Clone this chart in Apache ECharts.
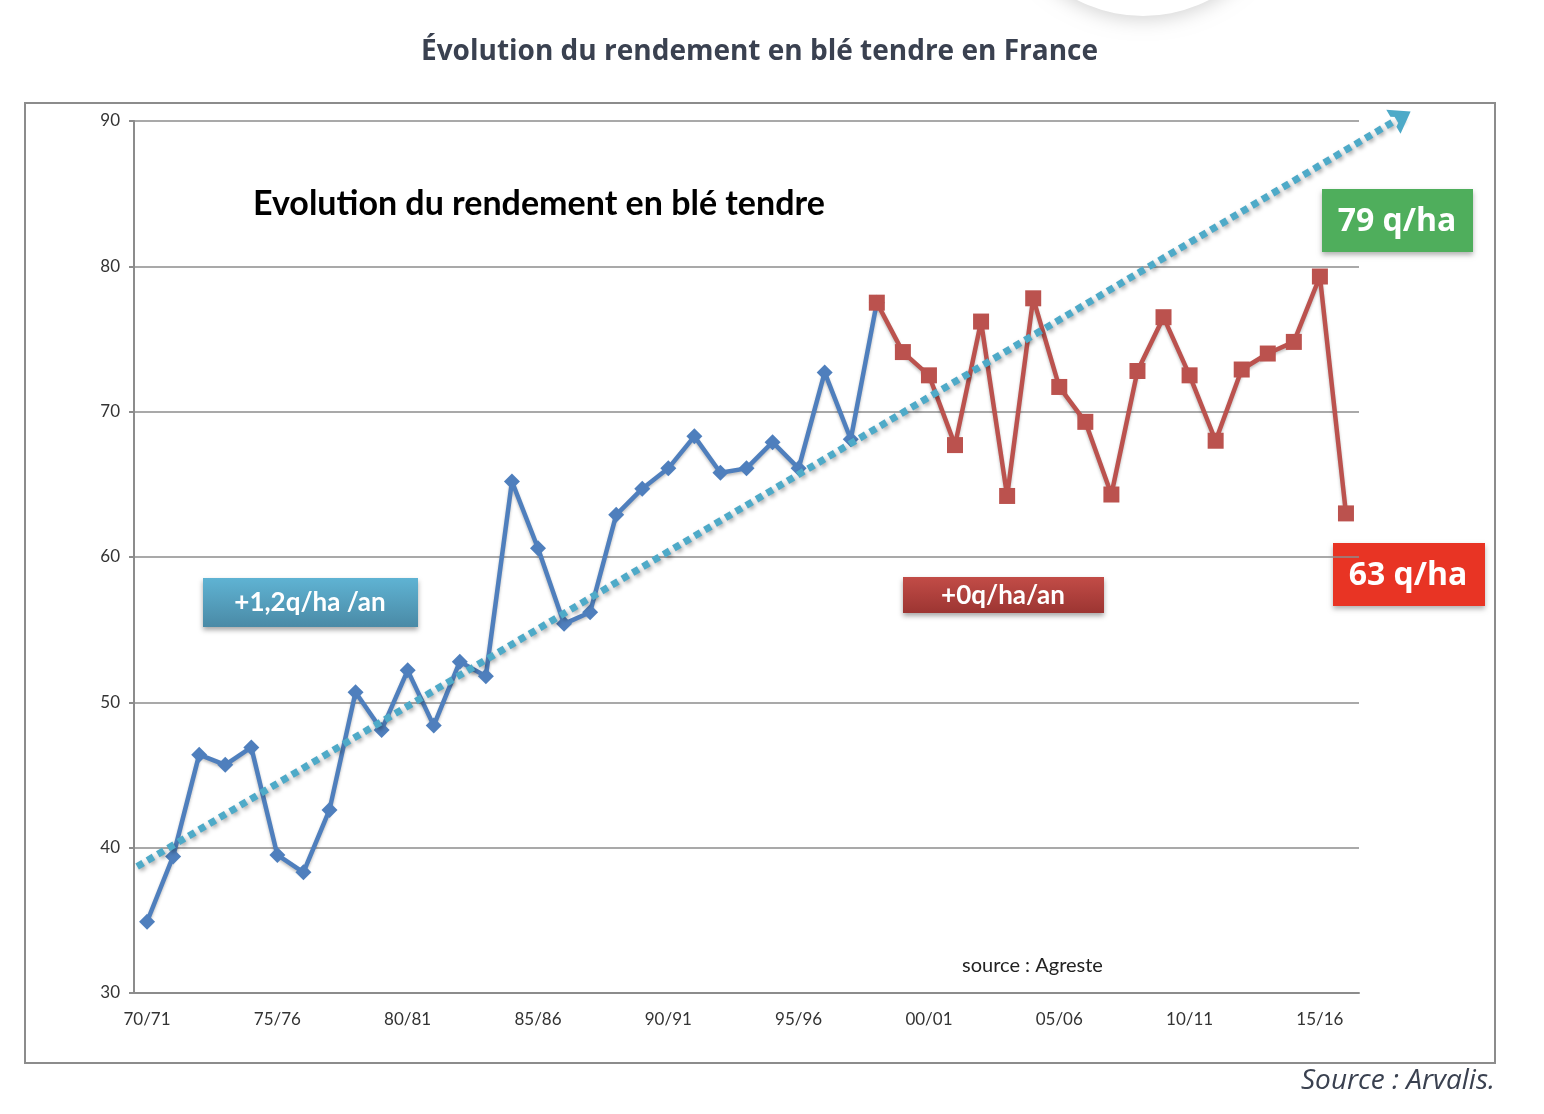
<!DOCTYPE html>
<html>
<head>
    <meta charset="utf-8">
    <title>Évolution du rendement en blé tendre en France</title>
    <style>
        html, body { margin: 0; padding: 0; background: #fff; }
        #main { width: 1544px; height: 1114px; }
    </style>
</head>
<body>
    <script type="text/javascript" src="https://cdn.jsdelivr.net/npm/echarts@6/dist/echarts.min.js"></script>

    <div id="main"></div>

    <script type="text/javascript">
        // campagnes 70/71 -> 16/17
        var campagnes = ['70/71','71/72','72/73','73/74','74/75','75/76','76/77','77/78','78/79','79/80',
            '80/81','81/82','82/83','83/84','84/85','85/86','86/87','87/88','88/89','89/90',
            '90/91','91/92','92/93','93/94','94/95','95/96','96/97','97/98','98/99','99/00',
            '00/01','01/02','02/03','03/04','04/05','05/06','06/07','07/08','08/09','09/10',
            '10/11','11/12','12/13','13/14','14/15','15/16','16/17'];

        // rendement q/ha, période de progression (70/71 -> 98/99)
        var rendHausse = [34.9, 39.4, 46.4, 45.7, 46.9, 39.5, 38.3, 42.6, 50.7, 48.1,
            52.2, 48.4, 52.8, 51.8, 65.2, 60.6, 55.4, 56.2, 62.9, 64.7,
            66.1, 68.3, 65.8, 66.1, 67.9, 66.1, 72.7, 68.1, 77.5];

        // rendement q/ha, période de plafonnement (98/99 -> 16/17)
        var rendPlateau = [77.5, 74.1, 72.5, 67.7, 76.2, 64.2, 77.8, 71.7, 69.3, 64.3,
            72.8, 76.5, 72.5, 68.0, 72.9, 74.0, 74.8, 79.3, 63.0];

        // tendance (flèche pointillée) : début et fin, x en rang de campagne
        var tendanceX = [-0.38, 48.15];
        var tendanceY = [38.7, 90.3];

        var yTicks = [30, 40, 50, 60, 70, 80, 90];

        var serieHausse = [];
        var seriePlateau = [];
        for (var i = 0; i < campagnes.length; i++) {
            serieHausse.push(i < rendHausse.length ? rendHausse[i] : null);
            var j = i - (rendHausse.length - 1);
            seriePlateau.push(j >= 0 ? rendPlateau[j] : null);
        }
        var serieTendance = [[tendanceX[0], tendanceY[0]], [tendanceX[1], tendanceY[1]]];

        // zone du graphique
        var G = { left: 134, right: 185, top: 121, bottom: 121 };
        var largeur = 1544 - G.left - G.right;
        var hauteur = 1114 - G.top - G.bottom;
        var yMin = yTicks[0], yMax = yTicks[yTicks.length - 1];
        // grille invisible plus grande pour la flèche qui dépasse (4 campagnes à droite, 5 q/ha en haut)
        var extX = 4, extY = 5;
        var G2 = {
            left: G.left,
            right: G.right - extX * largeur / campagnes.length,
            top: G.top - extY * hauteur / (yMax - yMin),
            bottom: G.bottom
        };

        var police = 'Lato, "Open Sans", sans-serif';
        var chevron = 'path://M0 0L12 16L5 16L0 9L-5 16L-12 16Z';
        var myChart = echarts.init(document.getElementById('main'));

        myChart.setOption({
            animation: false,
            backgroundColor: '#fff',
            title: {
                text: 'Évolution du rendement en blé tendre en France',
                left: 416,
                top: 33,
                textStyle: {
                    fontFamily: '"Open Sans", sans-serif',
                    fontSize: 28,
                    fontWeight: 'bold',
                    color: '#3a4150'
                }
            },
            grid: [G, G2],
            xAxis: [
                {
                    type: 'category',
                    gridIndex: 0,
                    data: campagnes,
                    boundaryGap: true,
                    axisLine: { onZero: false, lineStyle: { color: '#8c8c8c', width: 2 } },
                    axisTick: { interval: 0, length: 6, lineStyle: { color: '#8c8c8c', width: 2 } },
                    axisLabel: {
                        interval: 4,
                        margin: 18,
                        fontFamily: police,
                        fontSize: 17,
                        color: '#333'
                    },
                    splitLine: { show: false }
                },
                {
                    type: 'value',
                    gridIndex: 1,
                    show: false,
                    min: -0.5,
                    max: campagnes.length - 0.5 + extX
                }
            ],
            yAxis: [
                {
                    type: 'value',
                    gridIndex: 0,
                    min: yMin,
                    max: yMax,
                    interval: 10,
                    axisLine: { show: true, onZero: false, lineStyle: { color: '#8c8c8c', width: 2 } },
                    axisTick: { show: true, length: 5, lineStyle: { color: '#8c8c8c', width: 2 } },
                    axisLabel: {
                        margin: 14,
                        fontFamily: police,
                        fontSize: 17,
                        color: '#333'
                    },
                    splitLine: { lineStyle: { color: '#8c8c8c', width: 1.5 } }
                },
                {
                    type: 'value',
                    gridIndex: 1,
                    show: false,
                    min: yMin,
                    max: yMax + extY
                }
            ],
            series: [
                {
                    name: 'hausse',
                    type: 'line',
                    data: serieHausse,
                    symbol: 'diamond',
                    symbolSize: 16,
                    itemStyle: { color: '#4f7fbd' },
                    lineStyle: {
                        color: '#4f7fbd',
                        width: 4.5,
                        shadowColor: 'rgba(0,0,0,0.25)',
                        shadowBlur: 3,
                        shadowOffsetY: 2
                    },
                    z: 3
                },
                {
                    name: 'plateau',
                    type: 'line',
                    data: seriePlateau,
                    symbol: 'rect',
                    symbolSize: 16,
                    itemStyle: { color: '#bb524e' },
                    lineStyle: {
                        color: '#bb524e',
                        width: 4.5,
                        shadowColor: 'rgba(0,0,0,0.25)',
                        shadowBlur: 3,
                        shadowOffsetY: 2
                    },
                    z: 4
                },
                {
                    name: 'tendance',
                    type: 'line',
                    xAxisIndex: 1,
                    yAxisIndex: 1,
                    data: serieTendance,
                    showSymbol: false,
                    symbol: 'none',
                    lineStyle: { opacity: 0 },
                    z: 5,
                    markLine: {
                        silent: true,
                        symbol: ['none', chevron],
                        symbolSize: [28, 20],
                        label: { show: false },
                        lineStyle: {
                            color: '#4eaac8',
                            opacity: 1,
                            width: 7,
                            type: [7, 5],
                            shadowColor: 'rgba(0,0,0,0.35)',
                            shadowBlur: 4,
                            shadowOffsetX: 2,
                            shadowOffsetY: 2
                        },
                        data: [[
                            { coord: serieTendance[0] },
                            { coord: serieTendance[1] }
                        ]]
                    }
                }
            ],
            graphic: [
                // cercle gris en haut de page
                {
                    type: 'circle',
                    shape: { cx: 1143, cy: -128, r: 144 },
                    style: { fill: '#fff', shadowColor: 'rgba(0,0,0,0.16)', shadowBlur: 18, shadowOffsetY: 4 },
                    z: 1
                },
                // cadre
                {
                    type: 'rect',
                    shape: { x: 25, y: 103, width: 1470, height: 960 },
                    style: { fill: null, stroke: '#8c8c8c', lineWidth: 2 },
                    z: 1
                },
                {
                    type: 'text',
                    left: 253,
                    top: 187,
                    style: {
                        text: 'Evolution du rendement en blé tendre',
                        font: 'bold 34px ' + police,
                        fill: '#000'
                    },
                    z: 10
                },
                // +1,2 q/ha/an
                {
                    type: 'group',
                    left: 203,
                    top: 578,
                    z: 10,
                    children: [
                        {
                            type: 'rect',
                            shape: { x: 0, y: 0, width: 215, height: 49 },
                            style: {
                                fill: new echarts.graphic.LinearGradient(0, 0, 0, 1, [
                                    { offset: 0, color: '#5fb3d3' },
                                    { offset: 1, color: '#4a8aa6' }
                                ]),
                                shadowColor: 'rgba(0,0,0,0.35)',
                                shadowBlur: 5,
                                shadowOffsetY: 3
                            }
                        },
                        {
                            type: 'text',
                            style: {
                                x: 107, y: 25,
                                text: '+1,2q/ha /an',
                                align: 'center',
                                verticalAlign: 'middle',
                                font: 'bold 26px ' + police,
                                fill: '#fff'
                            }
                        }
                    ]
                },
                // +0 q/ha/an
                {
                    type: 'group',
                    left: 903,
                    top: 577,
                    z: 10,
                    children: [
                        {
                            type: 'rect',
                            shape: { x: 0, y: 0, width: 201, height: 36 },
                            style: {
                                fill: new echarts.graphic.LinearGradient(0, 0, 0, 1, [
                                    { offset: 0, color: '#c24c47' },
                                    { offset: 1, color: '#9c3532' }
                                ]),
                                shadowColor: 'rgba(0,0,0,0.35)',
                                shadowBlur: 5,
                                shadowOffsetY: 3
                            }
                        },
                        {
                            type: 'text',
                            style: {
                                x: 100, y: 19,
                                text: '+0q/ha/an',
                                align: 'center',
                                verticalAlign: 'middle',
                                font: 'bold 26px ' + police,
                                fill: '#fff'
                            }
                        }
                    ]
                },
                // 79 q/ha
                {
                    type: 'group',
                    left: 1322,
                    top: 189,
                    z: 10,
                    children: [
                        {
                            type: 'rect',
                            shape: { x: 0, y: 0, width: 151, height: 63 },
                            style: {
                                fill: '#4fae5c',
                                shadowColor: 'rgba(0,0,0,0.3)',
                                shadowBlur: 5,
                                shadowOffsetY: 3
                            }
                        },
                        {
                            type: 'text',
                            style: {
                                x: 75, y: 33,
                                text: '79 q/ha',
                                align: 'center',
                                verticalAlign: 'middle',
                                font: 'bold 32px "Open Sans", sans-serif',
                                fill: '#fff'
                            }
                        }
                    ]
                },
                // 63 q/ha
                {
                    type: 'group',
                    left: 1333,
                    top: 543,
                    z: 10,
                    children: [
                        {
                            type: 'rect',
                            shape: { x: 0, y: 0, width: 152, height: 63 },
                            style: {
                                fill: '#e83424',
                                shadowColor: 'rgba(0,0,0,0.3)',
                                shadowBlur: 5,
                                shadowOffsetY: 3
                            }
                        },
                        {
                            type: 'text',
                            style: {
                                x: 75, y: 33,
                                text: '63 q/ha',
                                align: 'center',
                                verticalAlign: 'middle',
                                font: 'bold 32px "Open Sans", sans-serif',
                                fill: '#fff'
                            }
                        }
                    ]
                },
                {
                    type: 'text',
                    left: 962,
                    top: 956,
                    style: {
                        text: 'source : Agreste',
                        font: '20px ' + police,
                        fill: '#222'
                    },
                    z: 10
                },
                {
                    type: 'text',
                    right: 49,
                    top: 1067,
                    style: {
                        text: 'Source : Arvalis.',
                        font: 'italic 28px "Open Sans", sans-serif',
                        fill: '#3a4150'
                    },
                    z: 10
                }
            ]
        });
    </script>
</body>
</html>
